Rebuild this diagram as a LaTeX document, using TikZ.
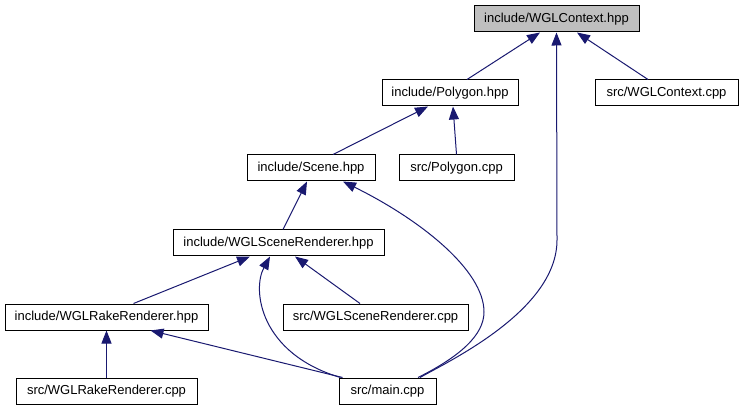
\documentclass[tikz,border=0pt]{standalone}
\usepackage{fontspec}
\setmainfont{Liberation Sans}
\usepackage{xcolor}
\usepackage{tikz}
\usetikzlibrary{arrows.meta,positioning}
\definecolor{edgeblue}{RGB}{25,25,112}
\definecolor{curgray}{RGB}{191,191,191}

\begin{document}
\begin{tikzpicture}[
    x=1pt,y=-1pt,
    box/.style={draw,line width=1pt,fill=white,inner sep=0pt,minimum height=26pt,font=\fontsize{13}{15}\selectfont},
    curbox/.style={box,fill=curgray},
    arrow/.style={{Triangle[length=13pt,width=10pt]}-,line width=1pt,draw=edgeblue}
  ]
    \useasboundingbox (0,0) rectangle (743,411);
    \node[curbox,minimum width=165pt] (ctx) at (556.5,19) {include/WGLContext.hpp};
    \node[box,minimum width=136pt] (poly) at (450,93) {include/Polygon.hpp};
    \node[box,minimum width=143pt] (ctxcpp) at (666.5,93) {src/WGLContext.cpp};
    \node[box,minimum width=128pt] (scene) at (311,168) {include/Scene.hpp};
    \node[box,minimum width=115pt] (polycpp) at (456.5,168) {src/Polygon.cpp};
    \node[box,minimum width=211pt] (sr) at (278.5,243) {include/WGLSceneRenderer.hpp};
    \node[box,minimum width=203pt] (rr) at (106.5,317) {include/WGLRakeRenderer.hpp};
    \node[box,minimum width=185pt] (srcpp) at (375.5,317) {src/WGLSceneRenderer.cpp};
    \node[box,minimum width=181pt] (rrcpp) at (106.5,391) {src/WGLRakeRenderer.cpp};
    \node[box,minimum width=97pt] (main) at (387.5,391) {src/main.cpp};

    \draw[arrow] ([xshift=-16.5]ctx.south) -- ([xshift=17]poly.north);
    \draw[arrow] ([xshift=20.5]ctx.south) -- ([xshift=-18.5]ctxcpp.north);
    \draw[arrow] ([xshift=-22]poly.south) -- ([xshift=22]scene.north);
    \draw[arrow] ([xshift=3]poly.south) -- (polycpp.north);
    \draw[arrow] ([xshift=-4]scene.south) -- ([xshift=4.5]sr.north);
    \draw[arrow] ([xshift=-28.5]sr.south) -- ([xshift=27]rr.north);
    \draw[arrow] ([xshift=16.5]sr.south) -- ([xshift=-15.5]srcpp.north);
    \draw[arrow] (rr.south) -- (rrcpp.north);
    \draw[arrow] ([xshift=44]rr.south) -- ([xshift=4]main.north west);
    \draw[arrow] ([xshift=-8.5]sr.south) .. controls +(-18,33) and +(-81,-24) .. ([xshift=2]main.north west);
    \draw[arrow] ([xshift=32]scene.south) .. controls +(77,38) and +(0,-42) .. (484,312)
        .. controls +(0,23) and +(42,-21) .. ([xshift=30.5]main.north);
    \draw[arrow] (ctx.south) -- (557,240) .. controls +(0,70) and +(30,-17) .. ([xshift=32.5]main.north);
  \end{tikzpicture}
\end{document}
